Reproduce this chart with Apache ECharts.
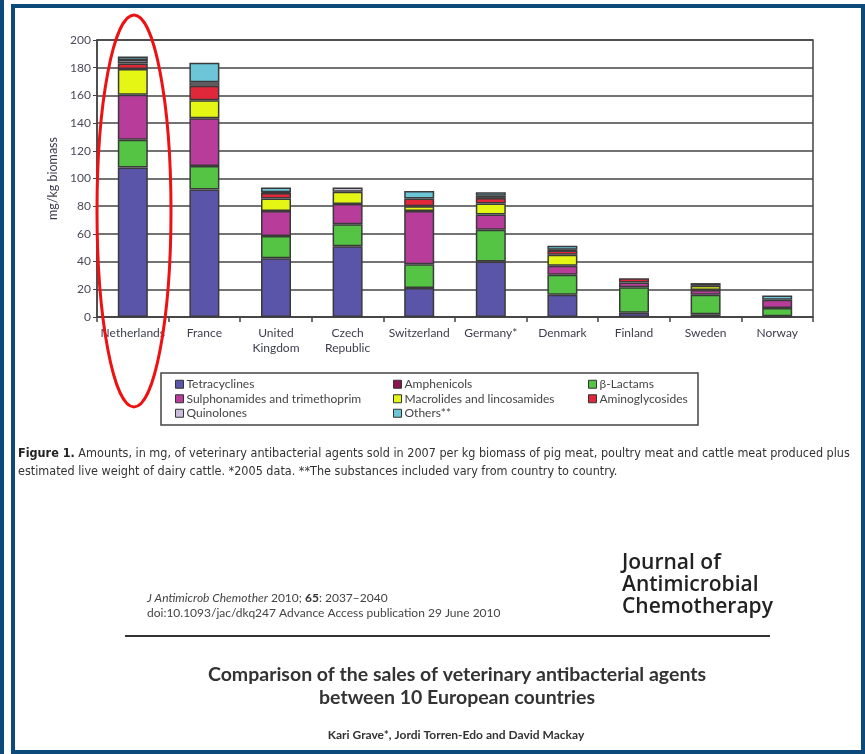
<!DOCTYPE html>
<html>
<head>
<meta charset="utf-8">
<script src="https://cdn.jsdelivr.net/npm/echarts@6/dist/echarts.min.js"></script>
<style>
  html, body { margin: 0; padding: 0; background: #fff; }
  #chart { width: 865px; height: 754px; }
</style>
</head>
<body>
<div id="chart"></div>
<script>
// mg per kg biomass, 2007 (Germany 2005)
var categories = ['Netherlands', 'France', 'United\nKingdom', 'Czech\nRepublic', 'Switzerland',
  'Germany*', 'Denmark', 'Finland', 'Sweden', 'Norway'];
var tetracyclines   = [108, 92, 42.5, 51, 21, 40, 16, 3, 2, 0.5];
var betaLactams     = [20, 17, 16, 16, 17, 23, 14.5, 18.5, 14, 6];
var sulphonamides   = [32.5, 34.5, 18, 14.5, 38.5, 11, 6.5, 3.5, 3.5, 6];
var macrolides      = [18.5, 13, 9, 9, 3.5, 8, 8, 0, 3, 0];
var aminoglycosides = [4, 10.5, 4, 0, 5.5, 4, 3, 3, 2, 0];
var amphenicols     = [0, 0, 0, 0, 0, 1.5, 0, 0, 0, 0];
var quinolones      = [2.5, 2.5, 0.5, 3, 0, 0, 0.5, 0, 0, 0];
var others          = [2.5, 14, 3.5, 0, 5.5, 2.5, 3, 0, 0, 3];
var yTicks = [0, 20, 40, 60, 80, 100, 120, 140, 160, 180, 200];

var chart = echarts.init(document.getElementById('chart'));

function bar(name, data, color) {
  return {
    name: name,
    type: 'bar',
    stack: 'total',
    barWidth: 30,
    itemStyle: { color: color, borderColor: '#3a3a3a', borderWidth: 1.5 },
    data: data.map(function (v) { return v === 0 ? '-' : v; })
  };
}

var legendBase = {
  orient: 'vertical',
  icon: 'rect',
  itemWidth: 8,
  itemHeight: 8,
  itemGap: 0,
  itemStyle: { borderColor: '#333', borderWidth: 1 },
  textStyle: { fontFamily: 'Lato', fontSize: 12, lineHeight: 14.5, height: 14.5, color: '#444', padding: [0, 0, 0, -2] },
  selectedMode: false
};

var blue = '#0d4a7c';

var option = {
  backgroundColor: '#fff',
  animation: false,
  grid: {
    left: 97, right: 52, top: 40, bottom: 437,
    show: true, borderColor: '#444', borderWidth: 1.5
  },
  legend: [
    Object.assign({ left: 170, top: 372,
      data: ['Tetracyclines', 'Sulphonamides and trimethoprim', 'Quinolones'] }, legendBase),
    Object.assign({ left: 388, top: 372,
      data: ['Amphenicols', 'Macrolides and lincosamides', 'Others**'] }, legendBase),
    Object.assign({ left: 583, top: 372,
      data: ['β-Lactams', 'Aminoglycosides'] }, legendBase)
  ],
  xAxis: {
    type: 'category',
    data: categories,
    axisLine: { lineStyle: { color: '#444', width: 1.5 } },
    axisTick: { show: true, length: 5, lineStyle: { color: '#444', width: 1.5 } },
    axisLabel: { interval: 0, fontFamily: 'Lato', fontSize: 12, color: '#3d3d4d',
      lineHeight: 15, margin: 9 }
  },
  yAxis: {
    type: 'value',
    min: 0, max: 200, interval: 20,
    name: 'mg/kg biomass',
    nameLocation: 'middle',
    nameGap: 32,
    nameTextStyle: { fontFamily: 'Lato', fontSize: 12.5, color: '#3d3d4d' },
    axisLine: { show: true, lineStyle: { color: '#444', width: 1.5 } },
    axisTick: { show: true, length: 4, lineStyle: { color: '#444' } },
    axisLabel: { fontFamily: 'Lato', fontSize: 12, color: '#4a4a5a', margin: 6,
      formatter: function (v) { return yTicks.indexOf(v) >= 0 ? String(v) : ''; } },
    splitLine: { lineStyle: { color: '#444', width: 1.5 } }
  },
  series: [
    bar('Tetracyclines', tetracyclines, '#5a55a8'),
    bar('β-Lactams', betaLactams, '#55c445'),
    bar('Sulphonamides and trimethoprim', sulphonamides, '#b83c9a'),
    bar('Macrolides and lincosamides', macrolides, '#e6f614'),
    bar('Aminoglycosides', aminoglycosides, '#e0283a'),
    bar('Amphenicols', amphenicols, '#8a1650'),
    bar('Quinolones', quinolones, '#cbbcdc'),
    bar('Others**', others, '#6cc6d8')
  ],
  graphic: [
    // page frame
    { type: 'rect', shape: { x: 0, y: 0, width: 4, height: 754 }, style: { fill: blue }, z: 100 },
    { type: 'rect', shape: { x: 13, y: 6, width: 850, height: 746 },
      style: { fill: null, stroke: blue, lineWidth: 4 }, z: 100 },
    // highlight ellipse
    { type: 'ellipse', shape: { cx: 134, cy: 211, rx: 37, ry: 196 },
      style: { fill: null, stroke: '#ee1111', lineWidth: 3 }, z: 100 },
    // legend box
    { type: 'rect', shape: { x: 161, y: 373, width: 537, height: 52 },
      style: { fill: null, stroke: '#444', lineWidth: 1.5 }, z: 5 },
    // caption
    { type: 'text', left: 18, top: 445, z: 10,
      style: {
        text: '{b|Figure 1.} Amounts, in mg, of veterinary antibacterial agents sold in 2007 per kg biomass of pig meat, poultry meat and cattle meat produced plus\nestimated live weight of dairy cattle. *2005 data. **The substances included vary from country to country.',
        fontFamily: 'Liberation Sans Narrow, DejaVu Sans Condensed, sans-serif',
        fontSize: 12.5, lineHeight: 18, fill: '#333',
        rich: { b: { fontWeight: 'bold', fontFamily: 'Liberation Sans Narrow, DejaVu Sans Condensed, sans-serif',
          fontSize: 12.5, fill: '#222' } }
      } },
    // journal header
    { type: 'text', left: 147, top: 591, z: 10,
      style: {
        text: '{i|J Antimicrob Chemother} 2010; {b|65}: 2037–2040\ndoi:10.1093/jac/dkq247 Advance Access publication 29 June 2010',
        fontFamily: 'Lato', fontSize: 12, lineHeight: 15, fill: '#444',
        rich: {
          i: { fontStyle: 'italic', fontFamily: 'Lato', fontSize: 12, fill: '#444' },
          b: { fontWeight: 'bold', fontFamily: 'Lato', fontSize: 12, fill: '#333' }
        }
      } },
    { type: 'text', left: 622, top: 552, z: 10,
      style: {
        text: 'Journal of\nAntimicrobial\nChemotherapy',
        fontFamily: 'Open Sans', fontWeight: 600, fontSize: 21, lineHeight: 22, fill: '#222'
      } },
    { type: 'rect', shape: { x: 125, y: 635, width: 645, height: 2 }, style: { fill: '#333' }, z: 10 },
    // article title
    { type: 'text', x: 457, y: 663, z: 10,
      style: {
        text: 'Comparison of the sales of veterinary antibacterial agents\nbetween 10 European countries',
        fontFamily: 'Lato', fontWeight: 'bold', fontSize: 19.5, lineHeight: 23,
        fill: '#333', align: 'center'
      } },
    { type: 'text', x: 456, y: 729, z: 10,
      style: {
        text: 'Kari Grave*, Jordi Torren-Edo and David Mackay',
        fontFamily: 'Lato', fontWeight: 'bold', fontSize: 12, fill: '#333', align: 'center'
      } }
  ]
};

chart.setOption(option);
</script>
</body>
</html>
